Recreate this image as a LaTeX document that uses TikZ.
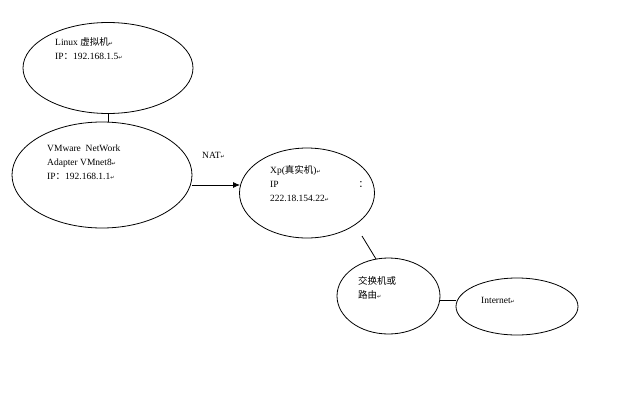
\documentclass[tikz,border=0pt]{standalone}
\usepackage{fontspec}
\setmainfont{Liberation Serif}
\newfontfamily\cjk{Noto Sans CJK SC}
\newfontfamily\dv{DejaVu Sans}
\usetikzlibrary{arrows.meta}
\newcommand{\retmark}{{\dv\tiny ↵}}
\begin{document}
\begin{tikzpicture}[x=1pt,y=-1pt,
  ell/.style={draw,line width=0.8pt},
  txt/.style={font=\fontsize{9.5}{14}\selectfont,align=left,anchor=north west,inner sep=0pt},
  conn/.style={line width=0.8pt}]
\useasboundingbox (0,0) rectangle (630,402);
\draw[ell] (108,68) ellipse (85 and 45.5);
\draw[ell] (102,175) ellipse (90 and 53);
\draw[ell] (307,193) ellipse (67.5 and 45);
\draw[ell] (388.5,296) ellipse (51.5 and 38);
\draw[ell] (517,306.5) ellipse (61 and 28.5);
\coordinate (la) at (108,113.5);
\coordinate (vb) at (108,122);
\coordinate (va) at (192,185);
\coordinate (xa) at (240,185);
\coordinate (xb) at (362,236);
\coordinate (sa) at (376,259);
\coordinate (sb) at (440,300);
\coordinate (ia) at (456,300);
\draw[conn] (la) -- (vb);
\draw[conn,-{Latex[length=7pt,width=6pt]}] (va) -- (xa);
\draw[conn] (xb) -- (sa);
\draw[conn] (sb) -- (ia);
\node[txt] (t1) at (55,37) {Linux {\cjk 虚拟机}\retmark\\IP{\cjk ：}192.168.1.5\retmark};
\node[txt] (t2) at (47,145) {VMware\ \ NetWork\\Adapter VMnet8\retmark\\IP{\cjk ：}192.168.1.1\retmark};
\node[txt] (nat) at (202,152) {NAT\retmark};
\node[txt] (t3) at (270,165) {Xp({\cjk 真实机})\retmark\\IP\hspace{80pt}{\cjk ：}\\222.18.154.22\retmark};
\node[txt] (t4) at (358,276) {{\cjk 交换机或}\\{\cjk 路由}\retmark};
\node[txt] (t5) at (481,297) {Internet\retmark};
\end{tikzpicture}
\end{document}
